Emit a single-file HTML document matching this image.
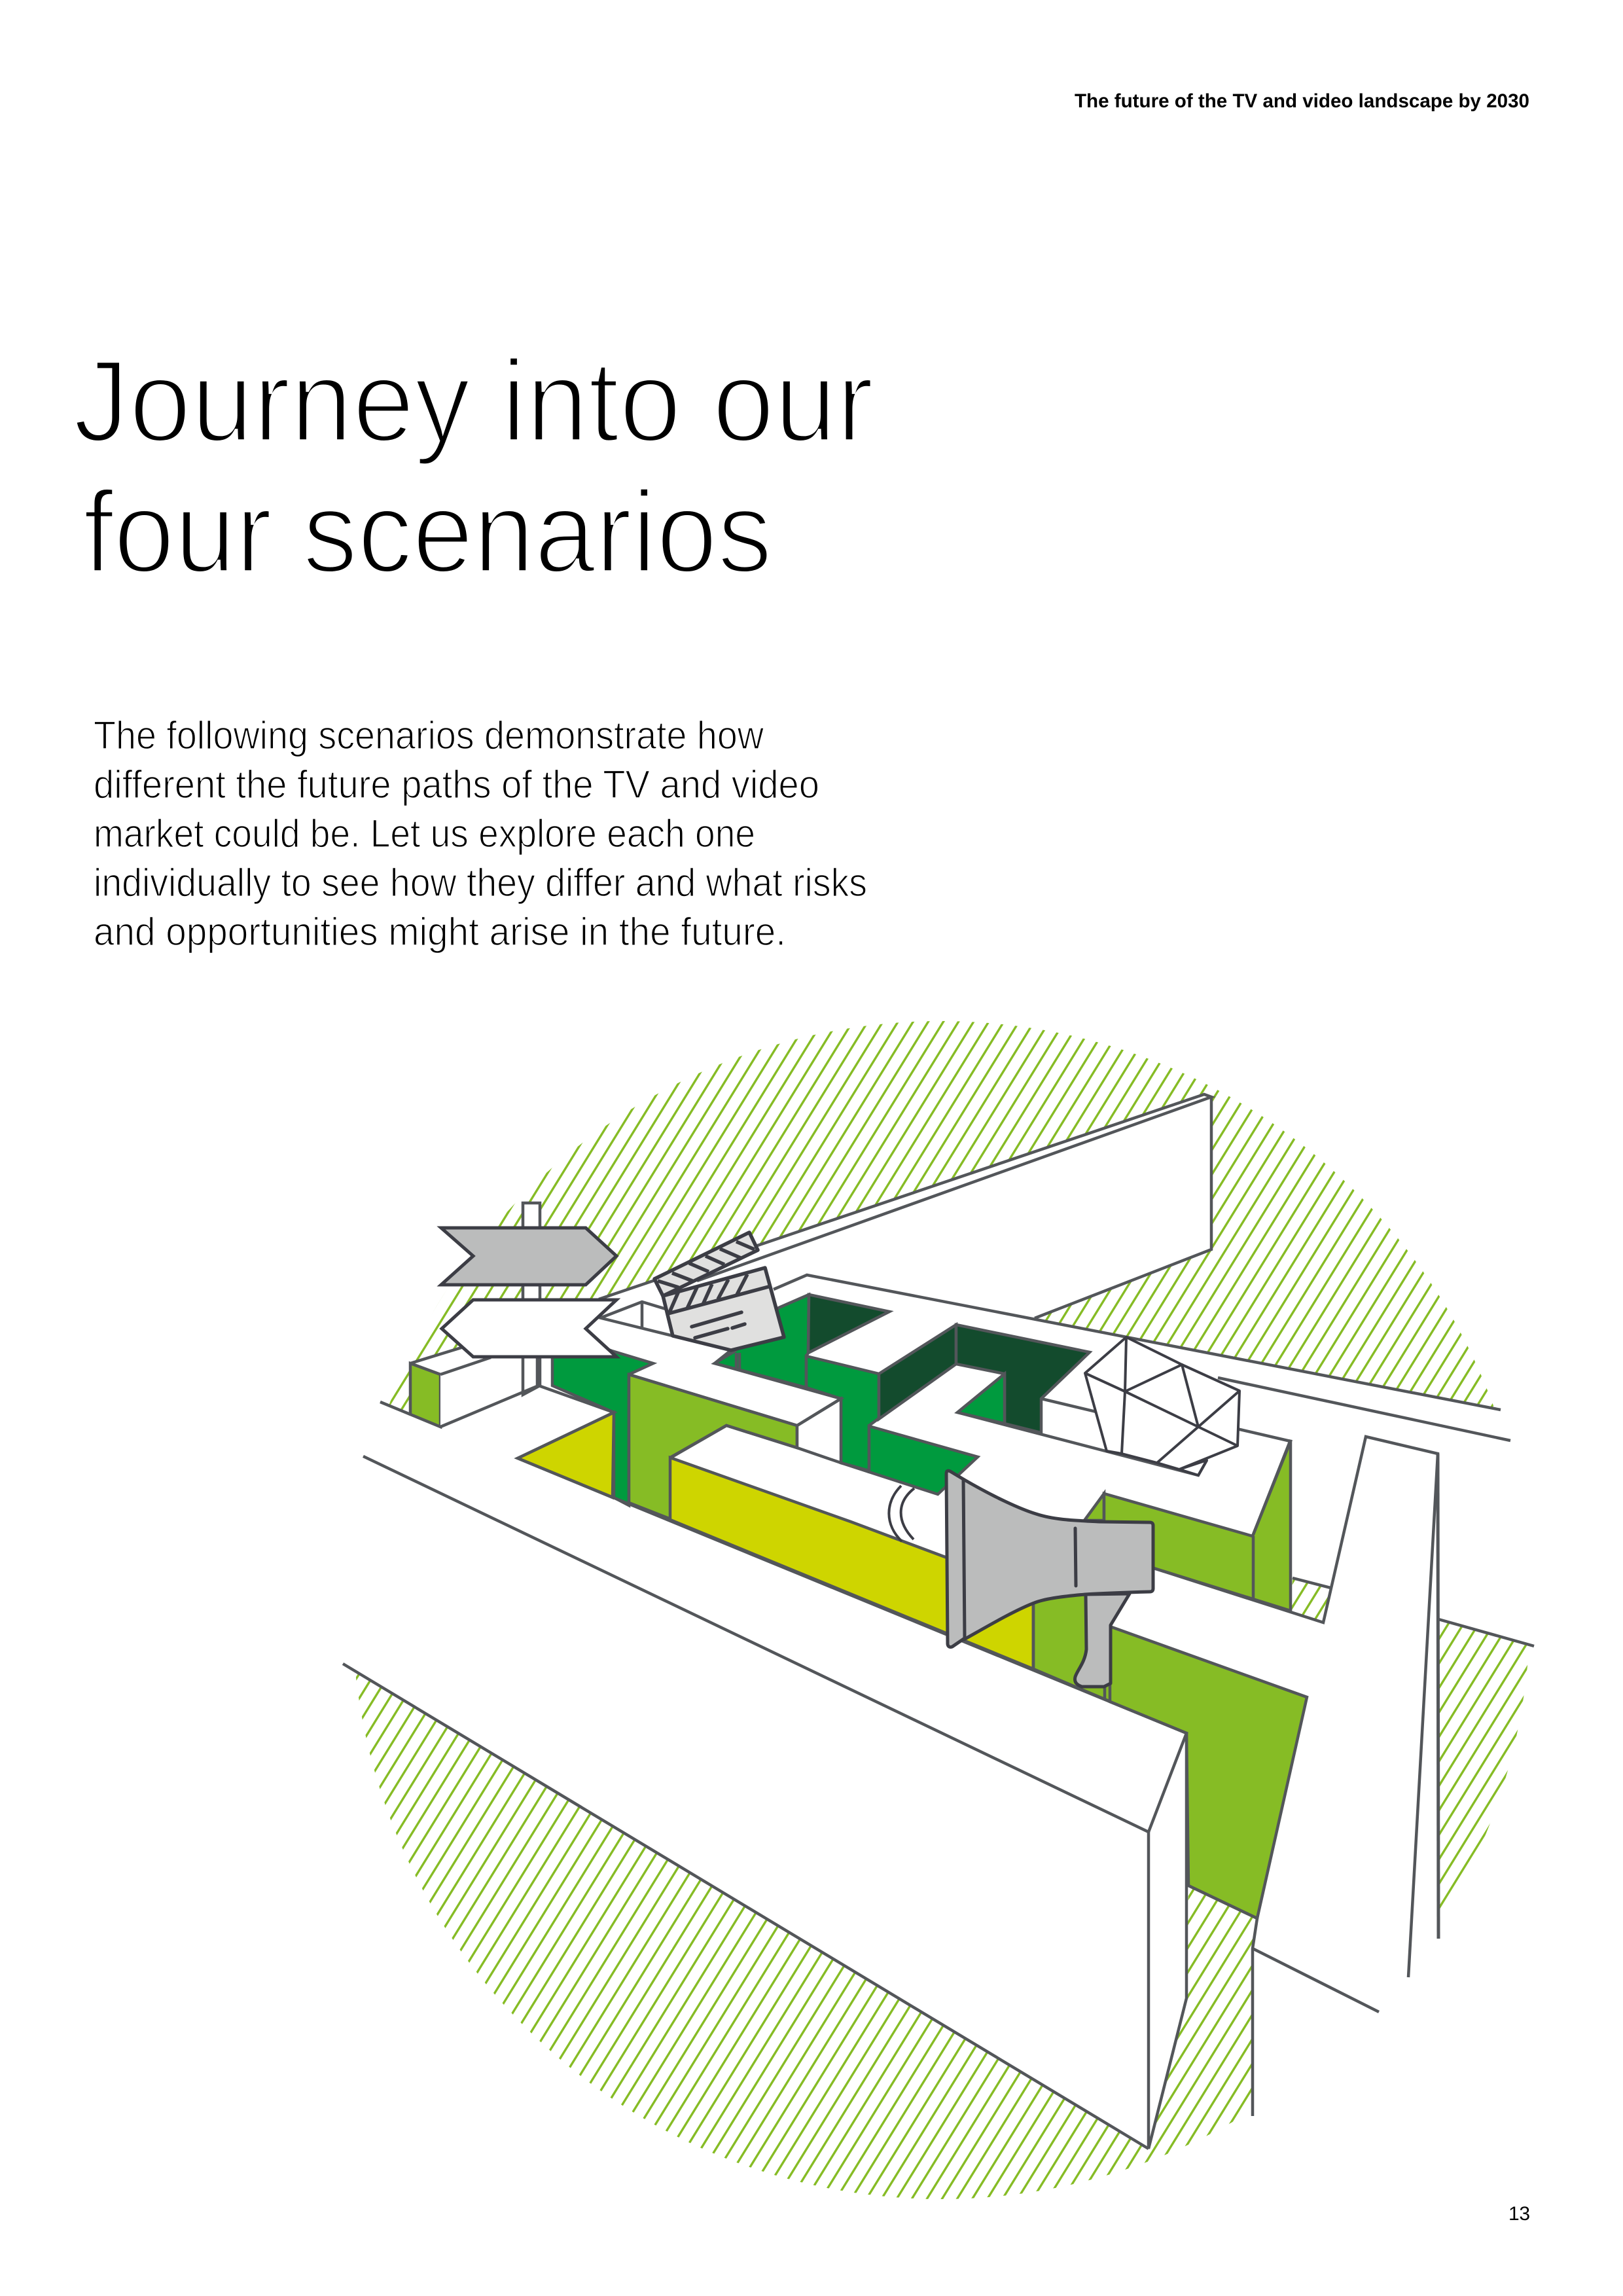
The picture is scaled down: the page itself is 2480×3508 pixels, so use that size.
<!DOCTYPE html>
<html><head><meta charset="utf-8"><style>
html,body{margin:0;padding:0;background:#fff}
svg{display:block}
text{font-family:"Liberation Sans",sans-serif;fill:#000}
.t{font-size:178px;stroke:#fff;stroke-width:5.5px}
.b{font-size:60px;stroke:#fff;stroke-width:1.5px}
</style></head><body>
<svg xmlns="http://www.w3.org/2000/svg" width="2480" height="3508" viewBox="0 0 2480 3508">
<defs>
<pattern id="h" patternUnits="userSpaceOnUse" width="23.1" height="100" patternTransform="translate(1.2 0) skewX(-31.7)"><rect width="4" height="100" fill="#86bc25"/></pattern>
</defs>
<rect width="2480" height="3508" fill="#fff"/>

<text x="1642" y="164" font-size="30" font-weight="700" textLength="695" lengthAdjust="spacingAndGlyphs">The future of the TV and video landscape by 2030</text>
<text class="t" x="112" y="674" textLength="1223" lengthAdjust="spacingAndGlyphs">Journey into our</text>
<text class="t" x="127" y="874" textLength="1053" lengthAdjust="spacingAndGlyphs">four scenarios</text>
<text class="b" x="143" y="1144" textLength="1024" lengthAdjust="spacingAndGlyphs">The following scenarios demonstrate how</text>
<text class="b" x="143" y="1219" textLength="1109" lengthAdjust="spacingAndGlyphs">different the future paths of the TV and video</text>
<text class="b" x="143" y="1294" textLength="1011" lengthAdjust="spacingAndGlyphs">market could be. Let us explore each one</text>
<text class="b" x="143" y="1369" textLength="1182" lengthAdjust="spacingAndGlyphs">individually to see how they differ and what risks</text>
<text class="b" x="143" y="1444" textLength="1058" lengthAdjust="spacingAndGlyphs">and opportunities might arise in the future.</text>
<text x="2305" y="3392" font-size="30" textLength="33" fill="#222">13</text>

<circle cx="1438" cy="2460" r="900" fill="url(#h)"/>
<polygon fill="#fff" points="915,1985 1840,1672 1851,1676 1851,1909 1581,2014 2293,2154 2420,2180 2420,2535 2198,2474 2198,3400 1914,3400 1914,2977 1921,2931 1816,2881 1813,3053 1755,3283 500,2528 500,2130 581,2142 627,2161 627,2083 705,2059"/>
<polygon fill="url(#h)" points="1975,2411 2033,2426 2022,2479 1973,2462"/>

<g stroke="#53565a" stroke-width="4.5" stroke-linejoin="miter" stroke-linecap="butt">
<!-- colour faces -->
<polygon fill="#009a3e" points="844,2030 935,2064 998,2083 961,2100 961,2300 938,2288 938,2158 844,2117"/>
<polygon fill="#86bc25" points="961,2100 1218,2178 1218,2212 1110,2178 1025,2227 1025,2321 961,2296"/>
<polygon fill="#ced500" points="791,2228 938,2158 936,2288"/>
<polygon fill="#009a3e" points="1092,2083 1122,2065 1190,1998 1236,1978 1235,2067 1232,2072 1232,2120"/>
<polygon fill="#134b2d" points="1236,1978 1359,2004 1235,2067"/>
<polygon fill="#009a3e" points="1232,2072 1343,2099 1343,2167 1328,2178 1328,2247 1285,2235 1285,2137 1232,2120"/>
<polygon fill="#134b2d" points="1343,2099 1461,2024 1461,2084 1343,2168"/>
<polygon fill="#134b2d" points="1461,2024 1665,2066 1591,2137 1591,2189 1535,2175 1535,2099 1461,2084"/>
<polygon fill="#009a3e" points="1535,2099 1463,2158 1535,2175"/>
<polygon fill="#009a3e" points="1328,2179 1494,2226 1433,2283 1328,2249"/>
<polygon fill="#fff" points="1218,2178 1285,2137 1285,2235 1218,2212"/>
<polygon fill="#ced500" points="1024,2227 1300,2325 1447,2380 1579,2440 1579,2550 1024,2322"/>
<polygon fill="#86bc25" points="1579,2440 1690,2430 1697,2490 1697,2600 1579,2550"/>
<polygon fill="#86bc25" points="1657,2323 1687,2282 1687,2323"/>
<polygon fill="#86bc25" points="1687,2282 1914,2347 1972,2200 1972,2461 1763,2396 1687,2370"/>
<polygon fill="#86bc25" points="1696,2485 1997,2593 1921,2931 1816,2881 1813,2648 1696,2600"/>
<polygon fill="#86bc25" points="627,2083 673,2100 673,2180 627,2161"/>

<!-- small box -->
<polygon fill="#fff" stroke="none" points="673,2100 750,2074 823,2117 673,2180"/>

<!-- structure lines -->
<g fill="none">
<polyline points="673,2100 750,2074"/>
<polyline points="627,2083 705,2059"/>
<polyline points="581,2142 627,2161"/>
<polyline points="915,1985 1840,1672 1851,1676 1065,1957"/>
<polyline points="1851,1676 1851,1909 1581,2014"/>
<polyline points="1182,1970 1233,1948 2293,2154"/>
<polyline points="1861,2105 2308,2201"/>
<polyline points="823,2117 938,2158 791,2228 1813,2648 1755,2799 555,2225"/>
<polyline points="1813,2648 1813,3053 1755,3283 1755,2799"/>
<polyline points="524,2542 1755,3283"/>
<polyline points="1816,2881 1921,2931 1914,2977 1914,3233"/>
<polyline points="1914,2977 2107,3074"/>
<polyline points="1763,2396 2022,2479 2087,2195 2197,2221 2152,3021"/>
<polyline points="2197,2221 2198,2962" stroke-width="5"/>
<polyline points="1975,2411 2033,2426"/>
<polyline points="2198,2474 2344,2515"/>
<polyline points="1591,2137 1700,2163"/>
<polyline points="1463,2158 1831,2254 1844,2231"/>
<polyline points="1886,2182 1972,2202 1914,2347"/>
<polyline points="1915,2347 1915,2442"/>
<polyline points="919,2013 981,1989 1024,2002"/>
<polyline points="981,1989 981,2028"/>
<polyline points="915,2013 1117,2063 1092,2083 1285,2137 1218,2178 961,2100"/>
<polyline points="1285,2235 1328,2249"/>
<polyline points="1024,2227 1110,2178 1218,2212"/>
<polyline points="1125,2067 1125,2092"/>
<polyline points="1130,2067 1130,2093"/>
<polyline points="1579,2452 1579,2550"/>
<polyline points="1688,2560 1688,2596"/>
</g>

<!-- sign post -->
<polygon fill="#fff" points="799,1838 825,1838 825,2117 799,2131"/>
<line x1="821" y1="2073" x2="821" y2="2118"/>
<polyline fill="none" points="673,2180 823,2117"/>
</g>

<!-- tunnel arcs -->
<g fill="none" stroke="#3c3d45" stroke-width="4">
<path d="M1377 2270 C1352 2295 1352 2330 1378 2355"/>
<path d="M1397 2274 C1370 2295 1370 2325 1396 2352"/>
</g>

<!-- signs -->
<g stroke="#3c3d45" stroke-width="5" stroke-linejoin="miter">
<polygon fill="#bbbcbc" points="674,1876 895,1876 942,1919 895,1963 674,1963 723,1919"/>
<polygon fill="#fff" points="723,1986 942,1986 895,2030 942,2073 723,2073 675,2030"/>
</g>

<!-- clapperboard -->
<g stroke="#3c3d45" stroke-width="5.5" stroke-linejoin="round" fill="none">
<polygon fill="#e0e0df" points="1000,1954 1145,1883 1158,1910 1013,1980"/>
<polygon fill="#e0e0df" points="1013,1980 1169,1937 1198,2043 1117,2063 1028,2041"/>
<path d="M1021 2007 L1178 1965"/>
<path d="M1027 1945 L1058 1957 M1053 1930 L1083 1943 M1078 1919 L1107 1932 M1100 1908 L1132 1922 M1125 1897 L1153 1909 M1005 1957 L1037 1967"/>
<path d="M1037 1973 L1023 2005 M1065 1967 L1050 1999 M1088 1962 L1074 1993 M1113 1955 L1097 1985 M1142 1947 L1126 1978"/>
<g stroke-linecap="round"><path d="M1057 2027 L1133 2005 M1062 2044 L1112 2030 M1119 2029 L1138 2023"/></g>
</g>

<!-- polyhedron -->
<g stroke="#3c3d45" stroke-width="4" fill="none" stroke-linejoin="round">
<polygon fill="#fff" points="1844,2231 1831,2254 1802,2245"/>
<polygon fill="#fff" points="1721,2043 1806,2085 1894,2125 1891,2209 1802,2245 1768,2235 1714,2221 1691,2217 1658,2098"/>
<path d="M1658 2098 L1719 2126 L1831 2180 L1891 2209"/>
<path d="M1721 2043 L1719 2126 L1714 2221"/>
<path d="M1719 2126 L1806 2085 L1831 2180"/>
<path d="M1894 2125 L1831 2180 L1768 2235"/>
</g>

<!-- megaphone -->
<g stroke="#3c3d45" stroke-width="5" stroke-linejoin="round" fill="#bbbcbc">
<path d="M1659 2436 L1660 2520 C1658 2540 1646 2552 1643 2562 C1641 2570 1645 2574 1653 2577 L1687 2577 L1697 2572 L1697 2483 L1726 2435 Z"/>
<path d="M1472 2260 C1520 2288 1560 2306 1583 2313 C1610 2322 1640 2323 1680 2325 L1757 2326 Q1762 2326 1762 2331 L1762 2427 Q1762 2432 1757 2432 C1720 2433 1690 2434 1658 2436 C1625 2439 1600 2442 1583 2448 C1550 2460 1500 2490 1473 2505 Z"/>
<path d="M1446 2252 Q1446 2245 1452 2248 L1472 2260 L1474 2503 L1455 2516 Q1449 2518 1448 2512 Z"/>
<path d="M1643 2335 L1644 2423" fill="none" stroke-linecap="round"/>
</g>
</svg>
</body></html>
